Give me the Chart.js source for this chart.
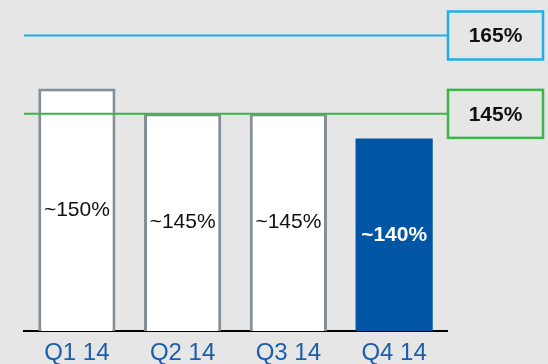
<!DOCTYPE html>
<html>
<head>
<meta charset="utf-8">
<script src="https://cdn.jsdelivr.net/npm/chart.js@4"></script>
<style>
    html, body { margin: 0; padding: 0; background: #e6e6e6; }
    #ratioChart { display: block; }
</style>
</head>
<body>
<canvas id="ratioChart" width="548" height="364"></canvas>
<script>
// Quarterly ratios (approximate) and the two reference levels
const quarters = ['Q1 14', 'Q2 14', 'Q3 14', 'Q4 14'];
const ratios = [150, 145, 145, 140];
const refLevels = [165, 145];
const refColors = ['#1eb0e6', '#3cb54a'];

const barFill = ['#ffffff', '#ffffff', '#ffffff', '#0055a5'];
const barBorder = ['#858f98', '#858f98', '#858f98', '#0055a5'];
const barBorderWidth = [3, 3, 3, 0];

const FONT = '"Liberation Sans", Arial, sans-serif';

// Draws "~xxx%" in the middle of every bar
const barLabels = {
    id: 'barLabels',
    afterDraw(chart) {
        const ctx = chart.ctx;
        const xScale = chart.scales.x;
        const yScale = chart.scales.y;
        const bottom = chart.chartArea.bottom;
        ctx.save();
        ctx.textAlign = 'center';
        ctx.textBaseline = 'middle';
        ratios.forEach((v, i) => {
            const last = i === ratios.length - 1;
            const x = xScale.getPixelForValue(i);
            const top = yScale.getPixelForValue(v);
            ctx.font = (last ? 'bold ' : '') + '21px ' + FONT;
            ctx.fillStyle = last ? '#ffffff' : '#111111';
            ctx.fillText('~' + v + '%', x, (top + bottom) / 2);
        });
        ctx.restore();
    }
};

// Horizontal reference lines with a boxed value on the right
const refLines = {
    id: 'refLines',
    afterDatasetsDraw(chart) {
        const ctx = chart.ctx;
        const area = chart.chartArea;
        const scale = chart.scales.yRef;
        const boxLeft = area.right + 1;
        const boxRight = 543;
        const boxH = 48;
        ctx.save();
        refLevels.forEach((level, i) => {
            const y = scale.getPixelForValue(level);
            ctx.strokeStyle = refColors[i];
            ctx.lineWidth = 2;
            ctx.beginPath();
            ctx.moveTo(area.left, y);
            ctx.lineTo(boxLeft, y);
            ctx.stroke();

            ctx.lineWidth = 2.5;
            ctx.strokeRect(boxLeft, y - boxH / 2, boxRight - boxLeft, boxH);

            ctx.fillStyle = '#111111';
            ctx.font = 'bold 21px ' + FONT;
            ctx.textAlign = 'center';
            ctx.textBaseline = 'middle';
            ctx.fillText(level + '%', (boxLeft + boxRight) / 2, y + 1);
        });
        ctx.restore();
    }
};

new Chart(document.getElementById('ratioChart'), {
    type: 'bar',
    data: {
        labels: quarters,
        datasets: [{
            data: ratios,
            backgroundColor: barFill,
            borderColor: barBorder,
            borderWidth: barBorderWidth,
            borderSkipped: 'start',
            barPercentage: 0.73,
            categoryPercentage: 1
        }]
    },
    options: {
        responsive: false,
        animation: false,
        devicePixelRatio: 1,
        layout: { padding: { left: 24, right: 101, top: 1, bottom: 0 } },
        plugins: {
            legend: { display: false },
            tooltip: { enabled: false }
        },
        scales: {
            x: {
                grid: { display: false, drawTicks: false },
                border: { display: true, color: '#000000', width: 2 },
                ticks: {
                    color: '#1c5ea9',
                    padding: 8,
                    font: { family: FONT, size: 24 }
                },
                afterFit(axis) { axis.height = 33; }
            },
            y: {
                display: false,
                min: 101.5,
                max: 167.5
            },
            yRef: {
                axis: 'y',
                display: false,
                min: 89.6,
                max: 173.8
            }
        }
    },
    plugins: [barLabels, refLines]
});
</script>
</body>
</html>
